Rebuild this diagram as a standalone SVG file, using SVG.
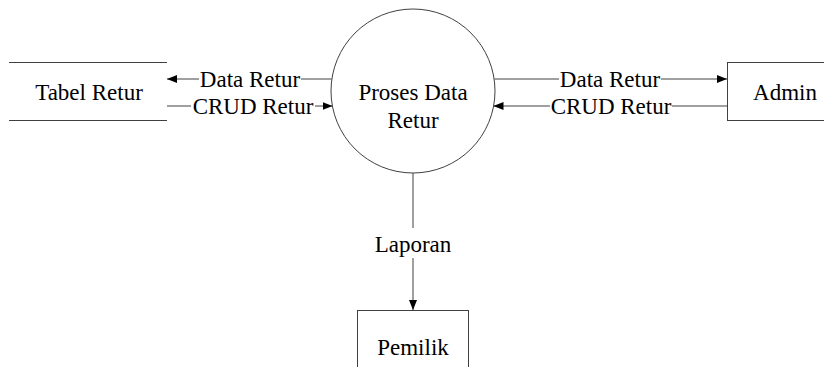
<svg xmlns="http://www.w3.org/2000/svg" width="824" height="367" viewBox="0 0 824 367">
<defs>
<marker id="arr" markerWidth="10" markerHeight="8" refX="10" refY="4" orient="auto" markerUnits="userSpaceOnUse">
<path d="M0,0 L10,4 L0,8 Z" fill="#000"/>
</marker>
<style>
.t{font-family:'Liberation Serif','Times New Roman',serif;font-size:23px;fill:#000;text-anchor:middle}
.s{fill:none;stroke:#404040;stroke-width:1}
.n{fill:#fff;stroke:#404040;stroke-width:1}
</style>
</defs>
<rect width="824" height="367" fill="#fff"/>
<g id="tabel-retur">
<line class="s" x1="9" y1="62.5" x2="167" y2="62.5"/>
<line class="s" x1="9" y1="120.5" x2="167" y2="120.5"/>
<text class="t" x="89" y="100">Tabel Retur</text>
</g>
<g id="proses">
<circle class="n" cx="413" cy="91" r="82"/>
<text class="t" x="413" y="100">Proses Data</text>
<text class="t" x="413" y="128">Retur</text>
</g>
<g id="admin">
<rect class="n" x="727.5" y="62.5" width="120" height="58"/>
<text class="t" x="785" y="100">Admin</text>
</g>
<g id="pemilik">
<rect class="n" x="357.5" y="310.5" width="111" height="80"/>
<text class="t" x="413" y="355">Pemilik</text>
</g>
<g id="connectors">
<path class="s" d="M331.5,79 H301"/>
<path class="s" d="M199,79 H167" marker-end="url(#arr)"/>
<text class="t" x="250" y="87">Data Retur</text>
<path class="s" d="M167,106 H191"/>
<path class="s" d="M315,106 H332.5" marker-end="url(#arr)"/>
<text class="t" x="253" y="114">CRUD Retur</text>
<path class="s" d="M494.5,79 H559"/>
<path class="s" d="M661,79 H727" marker-end="url(#arr)"/>
<text class="t" x="610" y="87">Data Retur</text>
<path class="s" d="M727,106 H672"/>
<path class="s" d="M550,106 H493.5" marker-end="url(#arr)"/>
<text class="t" x="611" y="114">CRUD Retur</text>
<path class="s" d="M413,173 V228"/>
<text class="t" x="413" y="252">Laporan</text>
<path class="s" d="M413,258 V310" marker-end="url(#arr)"/>
</g>
</svg>
